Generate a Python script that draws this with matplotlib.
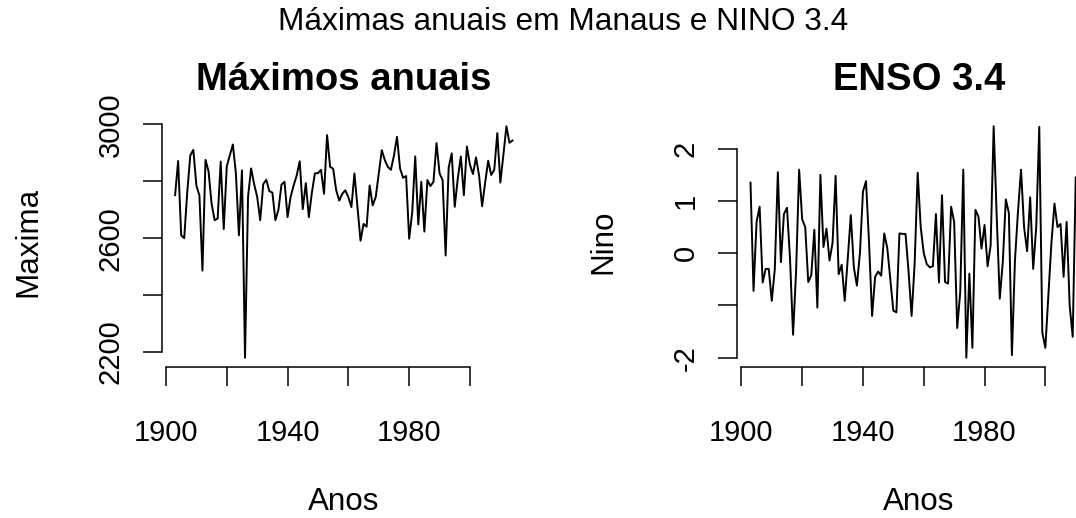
import numpy as np
import matplotlib
matplotlib.use("Agg")
import matplotlib.pyplot as plt

plt.rcParams['font.family'] = ['Liberation Sans', 'DejaVu Sans']

# Cotas máximas anuais do Rio Negro em Manaus (cm), 1903-2014
anos_max = np.arange(1903, 2015)
maxima = [
    2751, 2871, 2610, 2600, 2762, 2891, 2910, 2785, 2750, 2486,
    2875, 2835, 2722, 2663, 2669, 2869, 2632, 2852, 2891, 2929,
    2828, 2610, 2838, 2180, 2745, 2845, 2790, 2745, 2663, 2790,
    2805, 2765, 2760, 2663, 2700, 2788, 2798, 2674, 2745, 2785,
    2820, 2870, 2702, 2793, 2674, 2760, 2828, 2828, 2840, 2756,
    2962, 2850, 2844, 2768, 2732, 2756, 2768, 2744, 2709, 2827,
    2709, 2591, 2650, 2640, 2785, 2715, 2744, 2827, 2909, 2874,
    2850, 2840, 2890, 2956, 2845, 2812, 2818, 2598, 2690, 2887,
    2648, 2798, 2623, 2804, 2783, 2798, 2934, 2828, 2804, 2539,
    2848, 2898, 2710, 2810, 2887, 2751, 2922, 2858, 2825, 2884,
    2820, 2712, 2795, 2872, 2822, 2840, 2969, 2795, 2893, 2993,
    2935, 2943,
]

# Indice NINO 3.4
anos_nino = np.arange(1903, 2011)
nino = [
    1.35, -0.72, 0.60, 0.89, -0.56, -0.30, -0.30, -0.91, -0.30, 1.55,
    -0.17, 0.75, 0.87, -0.10, -1.56, -0.35, 1.60, 0.65, 0.50, -0.55,
    -0.42, 0.45, -1.04, 1.50, 0.12, 0.47, -0.14, 0.20, 1.48, -0.40,
    -0.22, -0.91, -0.10, 0.73, -0.27, -0.62, 0.00, 1.18, 1.38, 0.20,
    -1.20, -0.45, -0.35, -0.43, 0.38, 0.10, -0.50, -1.10, -1.13, 0.38,
    0.37, 0.37, -0.35, -1.20, -0.20, 1.54, 0.50, 0.00, -0.21, -0.27,
    -0.25, 0.75, -0.56, 1.11, -0.55, -0.58, 0.89, 0.60, -1.43, -0.75,
    1.60, -2.00, -0.39, -1.81, 0.83, 0.70, 0.09, 0.54, -0.25, 0.15,
    2.43, 0.70, -0.87, -0.17, 1.03, 0.77, -1.95, -0.14, 0.80, 1.60,
    0.50, 0.04, 1.07, -0.30, 0.50, 2.42, -1.52, -1.81, -0.80, 0.20,
    0.95, 0.50, 0.56, -0.45, 0.60, -1.00, -1.60, 1.45,
]

xticks = [1900, 1920, 1940, 1960, 1980, 2000]
xlabels = ['1900', '', '1940', '', '1980', '']


def r_range(v):
    # limites no estilo do R (extensao de 4%)
    lo, hi = min(v), max(v)
    d = 0.04 * (hi - lo)
    return lo - d, hi + d


fig = plt.figure(figsize=(10.76, 5.18), dpi=100)
W, H = 1076.0, 518.0

ax1 = fig.add_axes([161.6 / W, 1 - 367 / H, 364.4 / W, 250 / H])
ax2 = fig.add_axes([737.0 / W, 1 - 367 / H, 364.4 / W, 250 / H])

xl = (1903 - 0.04 * 111, 2014 + 0.04 * 111)

ax1.plot(anos_max, maxima, color='black', lw=1.4)
ax1.set_xlim(*xl)
ax1.set_ylim(*r_range(maxima))
ax1.set_yticks([2200, 2400, 2600, 2800, 3000])
ax1.set_yticklabels(['2200', '', '2600', '', '3000'])
ax1.spines['left'].set_bounds(2200, 3000)

ax2.plot(anos_nino, nino, color='black', lw=1.4)
ax2.set_xlim(*xl)
ax2.set_ylim(*r_range(nino))
ax2.set_yticks([-2, -1, 0, 1, 2])
ax2.set_yticklabels(['-2', '', '0', '1', '2'])
ax2.spines['left'].set_bounds(-2, 2)

for ax in (ax1, ax2):
    ax.set_xticks(xticks)
    ax.set_xticklabels(xlabels)
    ax.spines['bottom'].set_bounds(1900, 2000)
    ax.spines['top'].set_visible(False)
    ax.spines['right'].set_visible(False)
    for s in ('left', 'bottom'):
        ax.spines[s].set_linewidth(1.1)
    ax.tick_params(axis='both', length=13.7, width=1.1, labelsize=21)
    ax.tick_params(axis='x', pad=23.5)
    ax.tick_params(axis='y', pad=13)
    plt.setp(ax.get_yticklabels(), rotation=90, va='center')
    ax.patch.set_visible(False)

fig.text(563 / W, 1 - 22 / H, 'Máximas anuais em Manaus e NINO 3.4',
         ha='center', va='center', fontsize=22.8)
fig.text(344 / W, 1 - 80 / H, 'Máximos anuais', ha='center', va='center',
         fontsize=27.5, fontweight='bold')
fig.text(919 / W, 1 - 80 / H, 'ENSO 3.4', ha='center', va='center',
         fontsize=27.5, fontweight='bold')
fig.text(344 / W, 1 - 502 / H, 'Anos', ha='center', va='center', fontsize=22.6)
fig.text(919 / W, 1 - 502 / H, 'Anos', ha='center', va='center', fontsize=22.6)
fig.text(28 / W, 1 - 242 / H, 'Maxima', ha='center', va='center',
         rotation=90, fontsize=22.6)
fig.text(603 / W, 1 - 242 / H, 'Nino', ha='center', va='center',
         rotation=90, fontsize=22.6)

fig.savefig('out.png', dpi=100)
